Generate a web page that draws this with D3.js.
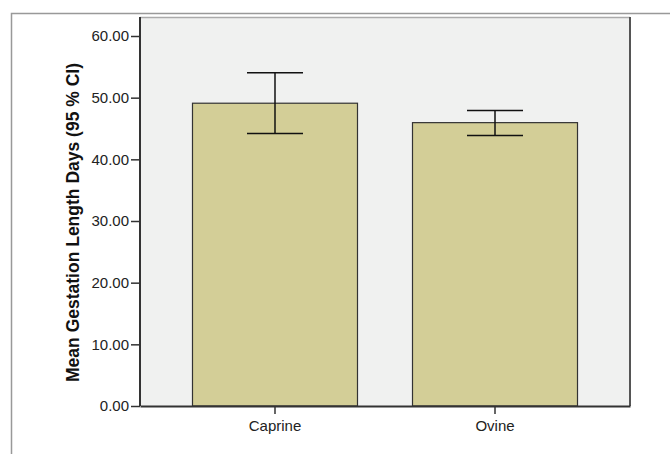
<!DOCTYPE html>
<html><head><meta charset="utf-8">
<script src="https://cdn.jsdelivr.net/npm/d3@7"></script>
<style>body{margin:0;background:#fff;} text{font-family:Arial,"Liberation Sans",sans-serif;}</style>
</head><body><svg id="c" width="670" height="454"></svg>
<script>
const categories = ["Caprine", "Ovine"];
const means = [49.1, 45.95];
const ciLow = [44.2, 43.85];
const ciHigh = [54.05, 47.9];
const yTicks = [0, 10, 20, 30, 40, 50, 60];

const svg = d3.select("#c");
const L = 140, R = 630, T = 17, B = 406;

// outer frame
svg.append("path").attr("d", `M11.5,454 V13.5 H670`).attr("fill","none").attr("stroke","#999").attr("stroke-width",1.5);

const y = d3.scaleLinear().domain([0, 60]).range([B, 36]);
const x = d3.scaleBand().domain(categories).range([L, R]).paddingInner(0.25).paddingOuter(0.2386);

// plot background
svg.append("rect").attr("x", L).attr("y", T).attr("width", R - L).attr("height", B - T).attr("fill", "#f0f1f0");
svg.append("line").attr("x1", L).attr("x2", R).attr("y1", T+0.5).attr("y2", T+0.5).attr("stroke", "#aaa").attr("stroke-width", 1.5);
svg.append("line").attr("x1", R).attr("x2", R).attr("y1", T).attr("y2", B).attr("stroke", "#555").attr("stroke-width", 2);

// bars
svg.selectAll("rect.bar").data(categories).enter().append("rect").attr("class","bar")
  .attr("x", d => x(d)).attr("width", x.bandwidth())
  .attr("y", (d,i) => y(means[i])).attr("height", (d,i) => y(0) - y(means[i]))
  .attr("fill", "#d3ce97").attr("stroke", "#333").attr("stroke-width", 1.2);

// error bars
const cap = 56;
categories.forEach((c,i) => {
  const cx = x(c) + x.bandwidth()/2;
  const g = svg.append("g").attr("stroke", "#111").attr("stroke-width", 1.5);
  g.append("line").attr("x1", cx).attr("x2", cx).attr("y1", y(ciLow[i])).attr("y2", y(ciHigh[i]));
  g.append("line").attr("x1", cx-cap/2).attr("x2", cx+cap/2).attr("y1", y(ciLow[i])).attr("y2", y(ciLow[i]));
  g.append("line").attr("x1", cx-cap/2).attr("x2", cx+cap/2).attr("y1", y(ciHigh[i])).attr("y2", y(ciHigh[i]));
});

// axes
const yAxis = svg.append("g").attr("transform", `translate(${L},0)`)
  .call(d3.axisLeft(y).tickValues(yTicks).tickFormat(d3.format(".2f")).tickSize(9).tickPadding(2).tickSizeOuter(0));
yAxis.attr("font-size", null).attr("font-family", null);
yAxis.select(".domain").attr("stroke", "#333").attr("stroke-width", 2).attr("d", `M0,${T}V${B}`);
yAxis.selectAll(".tick line").attr("stroke", "#333").attr("stroke-width", 1.5);
yAxis.selectAll("text").style("font-size", "15px").attr("fill", "#222").style("font-family", "Arial, 'Liberation Sans', sans-serif");

const xAxis = svg.append("g").attr("transform", `translate(0,${B})`)
  .call(d3.axisBottom(x).tickSize(8).tickPadding(6).tickSizeOuter(0));
xAxis.attr("font-size", null).attr("font-family", null);
xAxis.select(".domain").attr("stroke", "#333").attr("stroke-width", 2);
xAxis.selectAll(".tick line").attr("stroke", "#333").attr("stroke-width", 1.5);
xAxis.selectAll("text").style("font-size", "15px").attr("fill", "#222").style("font-family", "Arial, 'Liberation Sans', sans-serif");

svg.append("text").attr("transform", `translate(79,${(T+B)/2 + 11}) rotate(-90)`)
  .attr("text-anchor", "middle").style("font-size", "17.5px").attr("font-weight", "bold").attr("fill", "#111")
  .text("Mean Gestation Length Days (95 % CI)");
</script></body></html>
